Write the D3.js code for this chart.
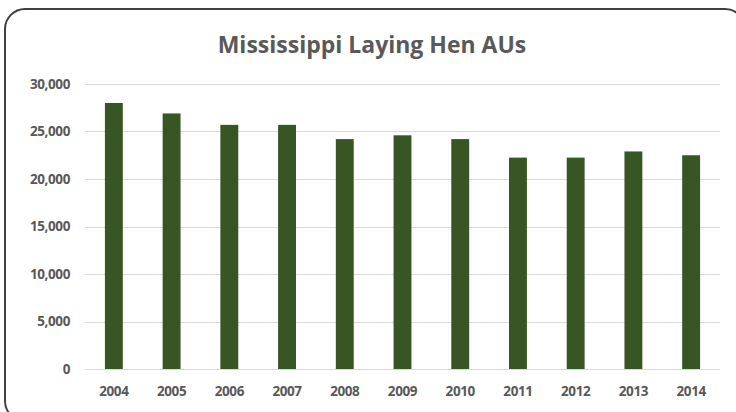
<!DOCTYPE html>
<meta charset="utf-8">
<style>
  body { margin: 0; background: #fff; }
  text { font-family: "Open Sans", sans-serif; fill: #595959; }
  .title { font-size: 23px; font-weight: bold; }
  .axis text { font-size: 13.5px; font-weight: bold; letter-spacing: -0.4px; }
  .grid line { stroke: #d9d9d9; stroke-width: 1px; }
</style>
<svg width="736" height="412"></svg>
<script src="https://d3js.org/d3.v7.min.js"></script>
<script>

var years = ["2004", "2005", "2006", "2007", "2008", "2009", "2010", "2011", "2012", "2013", "2014"];
var henAUs = [28000, 26900, 25700, 25700, 24200, 24600, 24200, 22250, 22250, 22900, 22500];
var yTicks = [0, 5000, 10000, 15000, 20000, 25000, 30000];

var svg = d3.select("svg"),
    margin = {top: 84, right: 16, bottom: 43, left: 85},
    width = +svg.attr("width") - margin.left - margin.right,
    height = +svg.attr("height") - margin.top - margin.bottom;

// chart frame, runs off the right and bottom like the original crop
svg.append("rect")
    .attr("x", 5)
    .attr("y", 9)
    .attr("width", 740)
    .attr("height", 412)
    .attr("rx", 20)
    .attr("ry", 20)
    .style("fill", "#fff")
    .style("stroke", "#404040")
    .style("stroke-width", 2);

svg.append("text")
    .attr("class", "title")
    .attr("x", 372)
    .attr("y", 53)
    .attr("text-anchor", "middle")
    .text("Mississippi Laying Hen AUs");

var x = d3.scaleBand().domain(years).range([0, width]).paddingInner(0.69).paddingOuter(0.345),
    y = d3.scaleLinear().domain([0, 30000]).range([height, 0]);

var g = svg.append("g")
    .attr("transform", "translate(" + margin.left + "," + margin.top + ")");

g.append("g")
    .attr("class", "grid")
    .selectAll("line")
    .data(yTicks)
    .enter().append("line")
    .attr("x1", 0)
    .attr("x2", width)
    .attr("y1", function(d) { return Math.round(y(d)) + 0.5; })
    .attr("y2", function(d) { return Math.round(y(d)) + 0.5; });

g.selectAll(".bar")
    .data(henAUs)
    .enter().append("rect")
    .attr("class", "bar")
    .attr("x", function(d, i) { return x(years[i]); })
    .attr("y", function(d) { return y(d); })
    .attr("width", x.bandwidth())
    .attr("height", function(d) { return height - y(d); })
    .style("fill", "#375623");

var yAxis = d3.axisLeft(y).tickValues(yTicks).tickFormat(d3.format(",")).tickSize(0).tickPadding(15);
var xAxis = d3.axisBottom(x).tickSize(0).tickPadding(17);

g.append("g")
    .attr("class", "axis")
    .call(yAxis)
    .call(function(s) { s.select(".domain").remove(); });

g.append("g")
    .attr("class", "axis")
    .attr("transform", "translate(0," + height + ")")
    .call(xAxis)
    .call(function(s) { s.select(".domain").remove(); });

</script>
